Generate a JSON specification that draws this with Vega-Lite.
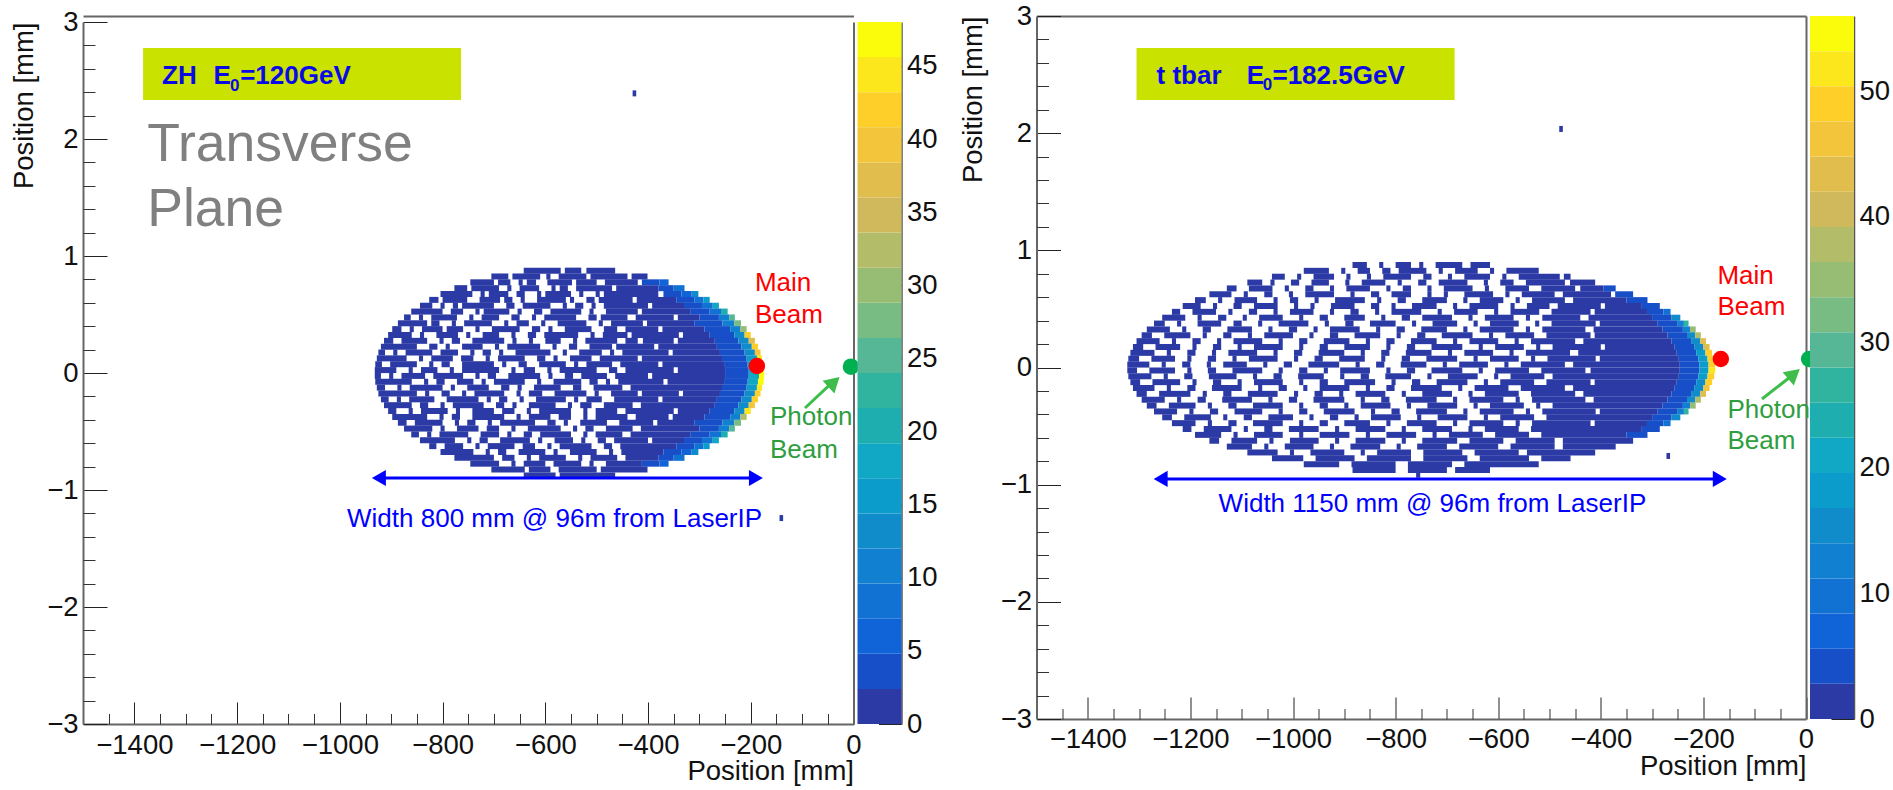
{"$schema":"https://vega.github.io/schema/vega-lite/v6.json","padding":{"left":10,"top":2,"right":0,"bottom":70},"background":"white","bounds":"flush","spacing":3.5,"resolve":{"scale":{"color":"independent"}},"config":{"font":"Liberation Sans","view":{"stroke":null},"axis":{"grid":false,"labelFlush":false,"labelOverlap":false,"labelFont":"Liberation Sans","titleFont":"Liberation Sans","labelFontSize":27.5,"titleFontSize":27.5,"labelColor":"#111","titleColor":"#111","titleFontWeight":"normal"},"text":{"font":"Liberation Sans"}},
"datasets":{"zh":[
{"x":-430,"x2":-423,"y":2.39,"n":1},{"x":-144,"x2":-137,"y":-1.24,"n":1},
{"x":-642,"x2":-570,"y":0.875,"n":1},{"x":-562,"x2":-530,"y":0.875,"n":1},{"x":-520,"x2":-464,"y":0.875,"n":1},
{"x":-705,"x2":-672,"y":0.825,"n":1},{"x":-664,"x2":-610,"y":0.825,"n":1},{"x":-598,"x2":-590,"y":0.825,"n":1},{"x":-574,"x2":-520,"y":0.825,"n":1},{"x":-512,"x2":-440,"y":0.825,"n":1},{"x":-432,"x2":-401,"y":0.825,"n":2},
{"x":-746,"x2":-700,"y":0.775,"n":1},{"x":-692,"x2":-668,"y":0.775,"n":1},{"x":-652,"x2":-644,"y":0.775,"n":1},{"x":-636,"x2":-618,"y":0.775,"n":1},{"x":-596,"x2":-548,"y":0.775,"n":1},{"x":-540,"x2":-500,"y":0.775,"n":1},{"x":-484,"x2":-420,"y":0.775,"n":1},{"x":-412,"x2":-378,"y":0.775,"n":3},{"x":-378,"x2":-360,"y":0.775,"n":6},
{"x":-777,"x2":-752,"y":0.725,"n":1},{"x":-744,"x2":-690,"y":0.725,"n":1},{"x":-674,"x2":-666,"y":0.725,"n":1},{"x":-650,"x2":-612,"y":0.725,"n":1},{"x":-588,"x2":-580,"y":0.725,"n":1},{"x":-572,"x2":-556,"y":0.725,"n":1},{"x":-540,"x2":-470,"y":0.725,"n":1},{"x":-462,"x2":-380,"y":0.725,"n":1},{"x":-380,"x2":-350,"y":0.725,"n":4},{"x":-350,"x2":-329,"y":0.725,"n":8},
{"x":-804,"x2":-742,"y":0.675,"n":1},{"x":-726,"x2":-718,"y":0.675,"n":1},{"x":-710,"x2":-672,"y":0.675,"n":1},{"x":-656,"x2":-640,"y":0.675,"n":1},{"x":-616,"x2":-608,"y":0.675,"n":1},{"x":-600,"x2":-550,"y":0.675,"n":1},{"x":-534,"x2":-526,"y":0.675,"n":1},{"x":-502,"x2":-494,"y":0.675,"n":1},{"x":-486,"x2":-380,"y":0.675,"n":1},{"x":-370,"x2":-335,"y":0.675,"n":3},{"x":-335,"x2":-315,"y":0.675,"n":6},{"x":-315,"x2":-302,"y":0.675,"n":12},
{"x":-826,"x2":-808,"y":0.625,"n":2},{"x":-800,"x2":-752,"y":0.625,"n":1},{"x":-728,"x2":-688,"y":0.625,"n":1},{"x":-680,"x2":-664,"y":0.625,"n":1},{"x":-648,"x2":-640,"y":0.625,"n":1},{"x":-616,"x2":-560,"y":0.625,"n":1},{"x":-552,"x2":-544,"y":0.625,"n":1},{"x":-520,"x2":-504,"y":0.625,"n":1},{"x":-496,"x2":-430,"y":0.625,"n":1},{"x":-422,"x2":-345,"y":0.625,"n":1},{"x":-345,"x2":-310,"y":0.625,"n":4},{"x":-310,"x2":-292,"y":0.625,"n":9},{"x":-292,"x2":-280,"y":0.625,"n":15},
{"x":-844,"x2":-820,"y":0.575,"n":2},{"x":-804,"x2":-796,"y":0.575,"n":1},{"x":-780,"x2":-770,"y":0.575,"n":1},{"x":-762,"x2":-700,"y":0.575,"n":1},{"x":-676,"x2":-660,"y":0.575,"n":1},{"x":-644,"x2":-590,"y":0.575,"n":1},{"x":-566,"x2":-558,"y":0.575,"n":1},{"x":-542,"x2":-526,"y":0.575,"n":1},{"x":-510,"x2":-502,"y":0.575,"n":1},{"x":-486,"x2":-400,"y":0.575,"n":1},{"x":-392,"x2":-330,"y":0.575,"n":1},{"x":-330,"x2":-295,"y":0.575,"n":4},{"x":-295,"x2":-274,"y":0.575,"n":9},{"x":-274,"x2":-262,"y":0.575,"n":17},
{"x":-861,"x2":-800,"y":0.525,"n":1},{"x":-784,"x2":-760,"y":0.525,"n":1},{"x":-736,"x2":-728,"y":0.525,"n":1},{"x":-720,"x2":-670,"y":0.525,"n":1},{"x":-654,"x2":-646,"y":0.525,"n":1},{"x":-622,"x2":-606,"y":0.525,"n":1},{"x":-590,"x2":-530,"y":0.525,"n":1},{"x":-514,"x2":-506,"y":0.525,"n":1},{"x":-482,"x2":-420,"y":0.525,"n":1},{"x":-412,"x2":-318,"y":0.525,"n":1},{"x":-318,"x2":-280,"y":0.525,"n":4},{"x":-280,"x2":-258,"y":0.525,"n":9},{"x":-258,"x2":-245,"y":0.525,"n":20},
{"x":-875,"x2":-862,"y":0.475,"n":2},{"x":-846,"x2":-838,"y":0.475,"n":1},{"x":-822,"x2":-772,"y":0.475,"n":1},{"x":-748,"x2":-740,"y":0.475,"n":1},{"x":-724,"x2":-690,"y":0.475,"n":1},{"x":-666,"x2":-650,"y":0.475,"n":1},{"x":-626,"x2":-618,"y":0.475,"n":1},{"x":-602,"x2":-540,"y":0.475,"n":1},{"x":-516,"x2":-500,"y":0.475,"n":1},{"x":-492,"x2":-440,"y":0.475,"n":1},{"x":-424,"x2":-350,"y":0.475,"n":1},{"x":-342,"x2":-300,"y":0.475,"n":2},{"x":-300,"x2":-262,"y":0.475,"n":4},{"x":-262,"x2":-242,"y":0.475,"n":10},{"x":-242,"x2":-231,"y":0.475,"n":24},
{"x":-887,"x2":-830,"y":0.425,"n":1},{"x":-822,"x2":-806,"y":0.425,"n":1},{"x":-782,"x2":-774,"y":0.425,"n":1},{"x":-758,"x2":-704,"y":0.425,"n":1},{"x":-680,"x2":-672,"y":0.425,"n":1},{"x":-656,"x2":-632,"y":0.425,"n":1},{"x":-608,"x2":-600,"y":0.425,"n":1},{"x":-576,"x2":-520,"y":0.425,"n":1},{"x":-496,"x2":-488,"y":0.425,"n":1},{"x":-472,"x2":-410,"y":0.425,"n":1},{"x":-402,"x2":-310,"y":0.425,"n":1},{"x":-310,"x2":-255,"y":0.425,"n":3},{"x":-255,"x2":-232,"y":0.425,"n":10},{"x":-232,"x2":-219,"y":0.425,"n":28},
{"x":-898,"x2":-880,"y":0.375,"n":2},{"x":-864,"x2":-856,"y":0.375,"n":1},{"x":-840,"x2":-800,"y":0.375,"n":1},{"x":-792,"x2":-760,"y":0.375,"n":1},{"x":-736,"x2":-728,"y":0.375,"n":1},{"x":-704,"x2":-650,"y":0.375,"n":1},{"x":-626,"x2":-610,"y":0.375,"n":1},{"x":-594,"x2":-586,"y":0.375,"n":1},{"x":-562,"x2":-510,"y":0.375,"n":1},{"x":-486,"x2":-460,"y":0.375,"n":1},{"x":-444,"x2":-380,"y":0.375,"n":1},{"x":-372,"x2":-290,"y":0.375,"n":1},{"x":-290,"x2":-240,"y":0.375,"n":3},{"x":-240,"x2":-220,"y":0.375,"n":11},{"x":-220,"x2":-208,"y":0.375,"n":30},
{"x":-906,"x2":-860,"y":0.325,"n":1},{"x":-844,"x2":-836,"y":0.325,"n":1},{"x":-812,"x2":-770,"y":0.325,"n":1},{"x":-754,"x2":-746,"y":0.325,"n":1},{"x":-722,"x2":-690,"y":0.325,"n":1},{"x":-666,"x2":-658,"y":0.325,"n":1},{"x":-634,"x2":-618,"y":0.325,"n":1},{"x":-602,"x2":-536,"y":0.325,"n":1},{"x":-512,"x2":-504,"y":0.325,"n":1},{"x":-488,"x2":-440,"y":0.325,"n":1},{"x":-432,"x2":-340,"y":0.325,"n":1},{"x":-332,"x2":-280,"y":0.325,"n":2},{"x":-280,"x2":-232,"y":0.325,"n":3},{"x":-232,"x2":-212,"y":0.325,"n":12},{"x":-212,"x2":-200,"y":0.325,"n":42},
{"x":-914,"x2":-896,"y":0.275,"n":2},{"x":-880,"x2":-830,"y":0.275,"n":1},{"x":-806,"x2":-798,"y":0.275,"n":1},{"x":-782,"x2":-766,"y":0.275,"n":1},{"x":-742,"x2":-680,"y":0.275,"n":1},{"x":-664,"x2":-656,"y":0.275,"n":1},{"x":-632,"x2":-624,"y":0.275,"n":1},{"x":-600,"x2":-570,"y":0.275,"n":1},{"x":-546,"x2":-538,"y":0.275,"n":1},{"x":-522,"x2":-460,"y":0.275,"n":1},{"x":-444,"x2":-420,"y":0.275,"n":1},{"x":-410,"x2":-350,"y":0.275,"n":1},{"x":-342,"x2":-270,"y":0.275,"n":2},{"x":-270,"x2":-224,"y":0.275,"n":3},{"x":-224,"x2":-204,"y":0.275,"n":13},{"x":-204,"x2":-192,"y":0.275,"n":38},
{"x":-920,"x2":-850,"y":0.225,"n":1},{"x":-826,"x2":-810,"y":0.225,"n":1},{"x":-794,"x2":-786,"y":0.225,"n":1},{"x":-762,"x2":-722,"y":0.225,"n":1},{"x":-698,"x2":-690,"y":0.225,"n":1},{"x":-674,"x2":-610,"y":0.225,"n":1},{"x":-586,"x2":-578,"y":0.225,"n":1},{"x":-554,"x2":-538,"y":0.225,"n":1},{"x":-514,"x2":-470,"y":0.225,"n":1},{"x":-462,"x2":-388,"y":0.225,"n":1},{"x":-380,"x2":-266,"y":0.225,"n":2},{"x":-266,"x2":-218,"y":0.225,"n":3},{"x":-218,"x2":-198,"y":0.225,"n":14},{"x":-198,"x2":-186,"y":0.225,"n":42},
{"x":-925,"x2":-912,"y":0.175,"n":2},{"x":-896,"x2":-888,"y":0.175,"n":1},{"x":-872,"x2":-820,"y":0.175,"n":1},{"x":-804,"x2":-770,"y":0.175,"n":1},{"x":-746,"x2":-738,"y":0.175,"n":1},{"x":-722,"x2":-706,"y":0.175,"n":1},{"x":-690,"x2":-682,"y":0.175,"n":1},{"x":-658,"x2":-590,"y":0.175,"n":1},{"x":-566,"x2":-558,"y":0.175,"n":1},{"x":-534,"x2":-490,"y":0.175,"n":1},{"x":-474,"x2":-466,"y":0.175,"n":1},{"x":-450,"x2":-360,"y":0.175,"n":1},{"x":-352,"x2":-260,"y":0.175,"n":2},{"x":-260,"x2":-212,"y":0.175,"n":3},{"x":-212,"x2":-192,"y":0.175,"n":14},{"x":-192,"x2":-181,"y":0.175,"n":40},
{"x":-928,"x2":-870,"y":0.125,"n":1},{"x":-846,"x2":-838,"y":0.125,"n":1},{"x":-822,"x2":-780,"y":0.125,"n":1},{"x":-764,"x2":-740,"y":0.125,"n":1},{"x":-716,"x2":-708,"y":0.125,"n":1},{"x":-692,"x2":-640,"y":0.125,"n":1},{"x":-616,"x2":-600,"y":0.125,"n":1},{"x":-584,"x2":-576,"y":0.125,"n":1},{"x":-552,"x2":-510,"y":0.125,"n":1},{"x":-494,"x2":-420,"y":0.125,"n":1},{"x":-412,"x2":-256,"y":0.125,"n":2},{"x":-256,"x2":-208,"y":0.125,"n":3},{"x":-208,"x2":-188,"y":0.125,"n":15},{"x":-188,"x2":-178,"y":0.125,"n":44},
{"x":-931,"x2":-918,"y":0.075,"n":2},{"x":-902,"x2":-850,"y":0.075,"n":1},{"x":-826,"x2":-818,"y":0.075,"n":1},{"x":-802,"x2":-786,"y":0.075,"n":1},{"x":-762,"x2":-700,"y":0.075,"n":1},{"x":-684,"x2":-676,"y":0.075,"n":1},{"x":-652,"x2":-636,"y":0.075,"n":1},{"x":-612,"x2":-560,"y":0.075,"n":1},{"x":-544,"x2":-536,"y":0.075,"n":1},{"x":-520,"x2":-470,"y":0.075,"n":1},{"x":-454,"x2":-380,"y":0.075,"n":1},{"x":-372,"x2":-252,"y":0.075,"n":2},{"x":-252,"x2":-206,"y":0.075,"n":3},{"x":-206,"x2":-186,"y":0.075,"n":16},{"x":-186,"x2":-175,"y":0.075,"n":46},
{"x":-932,"x2":-890,"y":0.025,"n":2},{"x":-866,"x2":-858,"y":0.025,"n":1},{"x":-842,"x2":-810,"y":0.025,"n":1},{"x":-786,"x2":-778,"y":0.025,"n":1},{"x":-762,"x2":-690,"y":0.025,"n":1},{"x":-666,"x2":-658,"y":0.025,"n":1},{"x":-642,"x2":-620,"y":0.025,"n":1},{"x":-596,"x2":-588,"y":0.025,"n":1},{"x":-572,"x2":-500,"y":0.025,"n":1},{"x":-476,"x2":-460,"y":0.025,"n":1},{"x":-444,"x2":-350,"y":0.025,"n":1},{"x":-342,"x2":-250,"y":0.025,"n":2},{"x":-250,"x2":-204,"y":0.025,"n":3},{"x":-204,"x2":-184,"y":0.025,"n":16},{"x":-184,"x2":-174,"y":0.025,"n":47},
{"x":-932,"x2":-920,"y":-0.025,"n":2},{"x":-904,"x2":-896,"y":-0.025,"n":1},{"x":-880,"x2":-834,"y":-0.025,"n":1},{"x":-818,"x2":-760,"y":-0.025,"n":1},{"x":-736,"x2":-728,"y":-0.025,"n":1},{"x":-712,"x2":-696,"y":-0.025,"n":1},{"x":-672,"x2":-610,"y":-0.025,"n":1},{"x":-594,"x2":-586,"y":-0.025,"n":1},{"x":-562,"x2":-546,"y":-0.025,"n":1},{"x":-530,"x2":-480,"y":-0.025,"n":1},{"x":-464,"x2":-400,"y":-0.025,"n":1},{"x":-392,"x2":-250,"y":-0.025,"n":2},{"x":-250,"x2":-204,"y":-0.025,"n":4},{"x":-204,"x2":-184,"y":-0.025,"n":18},{"x":-184,"x2":-174,"y":-0.025,"n":47},
{"x":-931,"x2":-860,"y":-0.075,"n":1},{"x":-836,"x2":-828,"y":-0.075,"n":1},{"x":-812,"x2":-796,"y":-0.075,"n":1},{"x":-772,"x2":-740,"y":-0.075,"n":1},{"x":-724,"x2":-716,"y":-0.075,"n":1},{"x":-700,"x2":-640,"y":-0.075,"n":1},{"x":-616,"x2":-608,"y":-0.075,"n":1},{"x":-584,"x2":-530,"y":-0.075,"n":1},{"x":-514,"x2":-498,"y":-0.075,"n":1},{"x":-482,"x2":-474,"y":-0.075,"n":1},{"x":-458,"x2":-370,"y":-0.075,"n":1},{"x":-362,"x2":-252,"y":-0.075,"n":2},{"x":-252,"x2":-206,"y":-0.075,"n":4},{"x":-206,"x2":-186,"y":-0.075,"n":17},{"x":-186,"x2":-175,"y":-0.075,"n":47},
{"x":-928,"x2":-912,"y":-0.125,"n":2},{"x":-888,"x2":-880,"y":-0.125,"n":1},{"x":-864,"x2":-800,"y":-0.125,"n":1},{"x":-784,"x2":-776,"y":-0.125,"n":1},{"x":-752,"x2":-710,"y":-0.125,"n":1},{"x":-686,"x2":-670,"y":-0.125,"n":1},{"x":-654,"x2":-646,"y":-0.125,"n":1},{"x":-622,"x2":-570,"y":-0.125,"n":1},{"x":-546,"x2":-530,"y":-0.125,"n":1},{"x":-506,"x2":-450,"y":-0.125,"n":1},{"x":-434,"x2":-256,"y":-0.125,"n":2},{"x":-256,"x2":-208,"y":-0.125,"n":3},{"x":-208,"x2":-188,"y":-0.125,"n":15},{"x":-188,"x2":-178,"y":-0.125,"n":44},
{"x":-925,"x2":-850,"y":-0.175,"n":1},{"x":-834,"x2":-826,"y":-0.175,"n":1},{"x":-802,"x2":-786,"y":-0.175,"n":1},{"x":-762,"x2":-754,"y":-0.175,"n":1},{"x":-738,"x2":-680,"y":-0.175,"n":1},{"x":-656,"x2":-648,"y":-0.175,"n":1},{"x":-632,"x2":-606,"y":-0.175,"n":1},{"x":-582,"x2":-520,"y":-0.175,"n":1},{"x":-504,"x2":-496,"y":-0.175,"n":1},{"x":-472,"x2":-420,"y":-0.175,"n":1},{"x":-412,"x2":-340,"y":-0.175,"n":1},{"x":-332,"x2":-260,"y":-0.175,"n":2},{"x":-260,"x2":-212,"y":-0.175,"n":3},{"x":-212,"x2":-192,"y":-0.175,"n":14},{"x":-192,"x2":-181,"y":-0.175,"n":42},
{"x":-920,"x2":-905,"y":-0.225,"n":2},{"x":-889,"x2":-881,"y":-0.225,"n":1},{"x":-865,"x2":-816,"y":-0.225,"n":1},{"x":-792,"x2":-730,"y":-0.225,"n":1},{"x":-714,"x2":-706,"y":-0.225,"n":1},{"x":-690,"x2":-674,"y":-0.225,"n":1},{"x":-650,"x2":-642,"y":-0.225,"n":1},{"x":-618,"x2":-560,"y":-0.225,"n":1},{"x":-544,"x2":-536,"y":-0.225,"n":1},{"x":-520,"x2":-490,"y":-0.225,"n":1},{"x":-466,"x2":-380,"y":-0.225,"n":1},{"x":-372,"x2":-266,"y":-0.225,"n":2},{"x":-266,"x2":-218,"y":-0.225,"n":3},{"x":-218,"x2":-198,"y":-0.225,"n":13},{"x":-198,"x2":-186,"y":-0.225,"n":42},
{"x":-914,"x2":-860,"y":-0.275,"n":1},{"x":-844,"x2":-828,"y":-0.275,"n":1},{"x":-804,"x2":-796,"y":-0.275,"n":1},{"x":-780,"x2":-720,"y":-0.275,"n":1},{"x":-696,"x2":-680,"y":-0.275,"n":1},{"x":-664,"x2":-656,"y":-0.275,"n":1},{"x":-632,"x2":-580,"y":-0.275,"n":1},{"x":-556,"x2":-548,"y":-0.275,"n":1},{"x":-532,"x2":-510,"y":-0.275,"n":1},{"x":-486,"x2":-430,"y":-0.275,"n":1},{"x":-414,"x2":-270,"y":-0.275,"n":2},{"x":-270,"x2":-224,"y":-0.275,"n":3},{"x":-224,"x2":-204,"y":-0.275,"n":12},{"x":-204,"x2":-192,"y":-0.275,"n":40},
{"x":-906,"x2":-890,"y":-0.325,"n":2},{"x":-866,"x2":-858,"y":-0.325,"n":1},{"x":-842,"x2":-790,"y":-0.325,"n":1},{"x":-774,"x2":-766,"y":-0.325,"n":1},{"x":-742,"x2":-700,"y":-0.325,"n":1},{"x":-684,"x2":-660,"y":-0.325,"n":1},{"x":-636,"x2":-628,"y":-0.325,"n":1},{"x":-612,"x2":-550,"y":-0.325,"n":1},{"x":-526,"x2":-518,"y":-0.325,"n":1},{"x":-502,"x2":-460,"y":-0.325,"n":1},{"x":-444,"x2":-350,"y":-0.325,"n":1},{"x":-342,"x2":-280,"y":-0.325,"n":2},{"x":-280,"x2":-232,"y":-0.325,"n":3},{"x":-232,"x2":-212,"y":-0.325,"n":12},{"x":-212,"x2":-200,"y":-0.325,"n":44},
{"x":-898,"x2":-830,"y":-0.375,"n":1},{"x":-806,"x2":-798,"y":-0.375,"n":1},{"x":-782,"x2":-766,"y":-0.375,"n":1},{"x":-742,"x2":-680,"y":-0.375,"n":1},{"x":-656,"x2":-648,"y":-0.375,"n":1},{"x":-632,"x2":-590,"y":-0.375,"n":1},{"x":-574,"x2":-550,"y":-0.375,"n":1},{"x":-526,"x2":-518,"y":-0.375,"n":1},{"x":-502,"x2":-440,"y":-0.375,"n":1},{"x":-424,"x2":-360,"y":-0.375,"n":1},{"x":-352,"x2":-290,"y":-0.375,"n":1},{"x":-290,"x2":-240,"y":-0.375,"n":3},{"x":-240,"x2":-220,"y":-0.375,"n":11},{"x":-220,"x2":-208,"y":-0.375,"n":32},
{"x":-887,"x2":-870,"y":-0.425,"n":2},{"x":-854,"x2":-800,"y":-0.425,"n":1},{"x":-776,"x2":-768,"y":-0.425,"n":1},{"x":-752,"x2":-736,"y":-0.425,"n":1},{"x":-712,"x2":-704,"y":-0.425,"n":1},{"x":-688,"x2":-620,"y":-0.425,"n":1},{"x":-596,"x2":-580,"y":-0.425,"n":1},{"x":-564,"x2":-556,"y":-0.425,"n":1},{"x":-532,"x2":-480,"y":-0.425,"n":1},{"x":-456,"x2":-390,"y":-0.425,"n":1},{"x":-382,"x2":-310,"y":-0.425,"n":1},{"x":-310,"x2":-255,"y":-0.425,"n":3},{"x":-255,"x2":-232,"y":-0.425,"n":10},{"x":-232,"x2":-219,"y":-0.425,"n":28},
{"x":-875,"x2":-820,"y":-0.475,"n":1},{"x":-804,"x2":-796,"y":-0.475,"n":1},{"x":-772,"x2":-730,"y":-0.475,"n":1},{"x":-714,"x2":-690,"y":-0.475,"n":1},{"x":-666,"x2":-658,"y":-0.475,"n":1},{"x":-634,"x2":-570,"y":-0.475,"n":1},{"x":-546,"x2":-538,"y":-0.475,"n":1},{"x":-522,"x2":-506,"y":-0.475,"n":1},{"x":-482,"x2":-430,"y":-0.475,"n":1},{"x":-414,"x2":-300,"y":-0.475,"n":1},{"x":-300,"x2":-262,"y":-0.475,"n":4},{"x":-262,"x2":-242,"y":-0.475,"n":10},{"x":-242,"x2":-231,"y":-0.475,"n":24},
{"x":-861,"x2":-846,"y":-0.525,"n":2},{"x":-830,"x2":-822,"y":-0.525,"n":1},{"x":-806,"x2":-750,"y":-0.525,"n":1},{"x":-726,"x2":-690,"y":-0.525,"n":1},{"x":-674,"x2":-666,"y":-0.525,"n":1},{"x":-642,"x2":-626,"y":-0.525,"n":1},{"x":-610,"x2":-550,"y":-0.525,"n":1},{"x":-526,"x2":-518,"y":-0.525,"n":1},{"x":-502,"x2":-450,"y":-0.525,"n":1},{"x":-434,"x2":-318,"y":-0.525,"n":1},{"x":-318,"x2":-280,"y":-0.525,"n":4},{"x":-280,"x2":-258,"y":-0.525,"n":9},{"x":-258,"x2":-245,"y":-0.525,"n":20},
{"x":-844,"x2":-776,"y":-0.575,"n":1},{"x":-752,"x2":-744,"y":-0.575,"n":1},{"x":-728,"x2":-712,"y":-0.575,"n":1},{"x":-688,"x2":-630,"y":-0.575,"n":1},{"x":-614,"x2":-606,"y":-0.575,"n":1},{"x":-582,"x2":-546,"y":-0.575,"n":1},{"x":-530,"x2":-522,"y":-0.575,"n":1},{"x":-498,"x2":-482,"y":-0.575,"n":1},{"x":-466,"x2":-400,"y":-0.575,"n":1},{"x":-392,"x2":-330,"y":-0.575,"n":1},{"x":-330,"x2":-295,"y":-0.575,"n":4},{"x":-295,"x2":-274,"y":-0.575,"n":9},{"x":-274,"x2":-262,"y":-0.575,"n":18},
{"x":-826,"x2":-812,"y":-0.625,"n":2},{"x":-796,"x2":-760,"y":-0.625,"n":1},{"x":-736,"x2":-728,"y":-0.625,"n":1},{"x":-712,"x2":-660,"y":-0.625,"n":1},{"x":-644,"x2":-620,"y":-0.625,"n":1},{"x":-596,"x2":-588,"y":-0.625,"n":1},{"x":-572,"x2":-510,"y":-0.625,"n":1},{"x":-486,"x2":-470,"y":-0.625,"n":1},{"x":-454,"x2":-345,"y":-0.625,"n":1},{"x":-345,"x2":-310,"y":-0.625,"n":4},{"x":-310,"x2":-292,"y":-0.625,"n":9},{"x":-292,"x2":-280,"y":-0.625,"n":15},
{"x":-804,"x2":-740,"y":-0.675,"n":1},{"x":-716,"x2":-708,"y":-0.675,"n":1},{"x":-692,"x2":-676,"y":-0.675,"n":1},{"x":-652,"x2":-600,"y":-0.675,"n":1},{"x":-584,"x2":-576,"y":-0.675,"n":1},{"x":-552,"x2":-500,"y":-0.675,"n":1},{"x":-476,"x2":-468,"y":-0.675,"n":1},{"x":-452,"x2":-370,"y":-0.675,"n":1},{"x":-370,"x2":-335,"y":-0.675,"n":3},{"x":-335,"x2":-315,"y":-0.675,"n":6},{"x":-315,"x2":-302,"y":-0.675,"n":12},
{"x":-777,"x2":-700,"y":-0.725,"n":1},{"x":-684,"x2":-660,"y":-0.725,"n":1},{"x":-636,"x2":-628,"y":-0.725,"n":1},{"x":-612,"x2":-560,"y":-0.725,"n":1},{"x":-536,"x2":-528,"y":-0.725,"n":1},{"x":-512,"x2":-460,"y":-0.725,"n":1},{"x":-444,"x2":-380,"y":-0.725,"n":1},{"x":-380,"x2":-350,"y":-0.725,"n":4},{"x":-350,"x2":-329,"y":-0.725,"n":8},
{"x":-746,"x2":-690,"y":-0.775,"n":1},{"x":-666,"x2":-658,"y":-0.775,"n":1},{"x":-642,"x2":-600,"y":-0.775,"n":1},{"x":-584,"x2":-530,"y":-0.775,"n":1},{"x":-514,"x2":-506,"y":-0.775,"n":1},{"x":-482,"x2":-412,"y":-0.775,"n":1},{"x":-412,"x2":-378,"y":-0.775,"n":3},{"x":-378,"x2":-360,"y":-0.775,"n":6},
{"x":-705,"x2":-640,"y":-0.825,"n":1},{"x":-632,"x2":-590,"y":-0.825,"n":1},{"x":-574,"x2":-500,"y":-0.825,"n":1},{"x":-492,"x2":-401,"y":-0.825,"n":1},
{"x":-642,"x2":-580,"y":-0.875,"n":1},{"x":-572,"x2":-464,"y":-0.875,"n":1}
],
"tt":[
{"x":-481,"x2":-474,"y":2.036,"n":1},{"x":-272,"x2":-265,"y":-0.755,"n":1},{"x":-760,"x2":-752,"y":-0.915,"n":1},
{"x":-884,"x2":-856,"y":0.875,"n":1},{"x":-832,"x2":-824,"y":0.875,"n":1},{"x":-800,"x2":-770,"y":0.875,"n":1},{"x":-754,"x2":-746,"y":0.875,"n":1},{"x":-722,"x2":-670,"y":0.875,"n":1},{"x":-654,"x2":-616,"y":0.875,"n":1},
{"x":-979,"x2":-930,"y":0.825,"n":1},{"x":-906,"x2":-898,"y":0.825,"n":1},{"x":-874,"x2":-850,"y":0.825,"n":1},{"x":-826,"x2":-810,"y":0.825,"n":1},{"x":-794,"x2":-740,"y":0.825,"n":1},{"x":-716,"x2":-708,"y":0.825,"n":1},{"x":-684,"x2":-640,"y":0.825,"n":1},{"x":-616,"x2":-608,"y":0.825,"n":1},{"x":-584,"x2":-521,"y":0.825,"n":1},
{"x":-1041,"x2":-1016,"y":0.775,"n":1},{"x":-992,"x2":-984,"y":0.775,"n":1},{"x":-960,"x2":-920,"y":0.775,"n":1},{"x":-896,"x2":-888,"y":0.775,"n":1},{"x":-856,"x2":-848,"y":0.775,"n":1},{"x":-824,"x2":-770,"y":0.775,"n":1},{"x":-746,"x2":-730,"y":0.775,"n":1},{"x":-698,"x2":-690,"y":0.775,"n":1},{"x":-666,"x2":-616,"y":0.775,"n":1},{"x":-592,"x2":-584,"y":0.775,"n":1},{"x":-560,"x2":-480,"y":0.775,"n":1},{"x":-472,"x2":-459,"y":0.775,"n":2},
{"x":-1089,"x2":-1060,"y":0.725,"n":1},{"x":-1044,"x2":-1036,"y":0.725,"n":1},{"x":-1004,"x2":-988,"y":0.725,"n":1},{"x":-964,"x2":-930,"y":0.725,"n":1},{"x":-898,"x2":-890,"y":0.725,"n":1},{"x":-866,"x2":-820,"y":0.725,"n":1},{"x":-796,"x2":-788,"y":0.725,"n":1},{"x":-756,"x2":-740,"y":0.725,"n":1},{"x":-716,"x2":-660,"y":0.725,"n":1},{"x":-628,"x2":-620,"y":0.725,"n":1},{"x":-596,"x2":-570,"y":0.725,"n":1},{"x":-546,"x2":-470,"y":0.725,"n":1},{"x":-460,"x2":-411,"y":0.725,"n":2},
{"x":-1129,"x2":-1110,"y":0.675,"n":1},{"x":-1086,"x2":-1040,"y":0.675,"n":1},{"x":-1016,"x2":-1008,"y":0.675,"n":1},{"x":-976,"x2":-960,"y":0.675,"n":1},{"x":-928,"x2":-920,"y":0.675,"n":1},{"x":-896,"x2":-850,"y":0.675,"n":1},{"x":-818,"x2":-810,"y":0.675,"n":1},{"x":-786,"x2":-770,"y":0.675,"n":1},{"x":-738,"x2":-730,"y":0.675,"n":1},{"x":-706,"x2":-650,"y":0.675,"n":1},{"x":-626,"x2":-618,"y":0.675,"n":1},{"x":-586,"x2":-540,"y":0.675,"n":1},{"x":-516,"x2":-450,"y":0.675,"n":1},{"x":-440,"x2":-395,"y":0.675,"n":1},{"x":-395,"x2":-371,"y":0.675,"n":4},
{"x":-1163,"x2":-1120,"y":0.625,"n":1},{"x":-1096,"x2":-1088,"y":0.625,"n":1},{"x":-1056,"x2":-1040,"y":0.625,"n":1},{"x":-1008,"x2":-1000,"y":0.625,"n":1},{"x":-976,"x2":-920,"y":0.625,"n":1},{"x":-888,"x2":-880,"y":0.625,"n":1},{"x":-848,"x2":-832,"y":0.625,"n":1},{"x":-808,"x2":-770,"y":0.625,"n":1},{"x":-738,"x2":-730,"y":0.625,"n":1},{"x":-706,"x2":-698,"y":0.625,"n":1},{"x":-666,"x2":-610,"y":0.625,"n":1},{"x":-586,"x2":-578,"y":0.625,"n":1},{"x":-554,"x2":-490,"y":0.625,"n":1},{"x":-474,"x2":-380,"y":0.625,"n":1},{"x":-372,"x2":-337,"y":0.625,"n":5},
{"x":-1191,"x2":-1170,"y":0.575,"n":1},{"x":-1146,"x2":-1138,"y":0.575,"n":1},{"x":-1114,"x2":-1070,"y":0.575,"n":1},{"x":-1038,"x2":-1030,"y":0.575,"n":1},{"x":-1006,"x2":-990,"y":0.575,"n":1},{"x":-958,"x2":-950,"y":0.575,"n":1},{"x":-918,"x2":-860,"y":0.575,"n":1},{"x":-836,"x2":-828,"y":0.575,"n":1},{"x":-796,"x2":-780,"y":0.575,"n":1},{"x":-748,"x2":-700,"y":0.575,"n":1},{"x":-668,"x2":-660,"y":0.575,"n":1},{"x":-636,"x2":-590,"y":0.575,"n":1},{"x":-566,"x2":-558,"y":0.575,"n":1},{"x":-534,"x2":-470,"y":0.575,"n":1},{"x":-454,"x2":-350,"y":0.575,"n":1},{"x":-350,"x2":-309,"y":0.575,"n":5},
{"x":-1215,"x2":-1180,"y":0.525,"n":1},{"x":-1156,"x2":-1148,"y":0.525,"n":1},{"x":-1116,"x2":-1100,"y":0.525,"n":1},{"x":-1076,"x2":-1030,"y":0.525,"n":1},{"x":-998,"x2":-990,"y":0.525,"n":1},{"x":-966,"x2":-958,"y":0.525,"n":1},{"x":-926,"x2":-880,"y":0.525,"n":1},{"x":-848,"x2":-832,"y":0.525,"n":1},{"x":-808,"x2":-800,"y":0.525,"n":1},{"x":-768,"x2":-720,"y":0.525,"n":1},{"x":-688,"x2":-680,"y":0.525,"n":1},{"x":-656,"x2":-600,"y":0.525,"n":1},{"x":-576,"x2":-568,"y":0.525,"n":1},{"x":-544,"x2":-500,"y":0.525,"n":1},{"x":-484,"x2":-400,"y":0.525,"n":1},{"x":-392,"x2":-320,"y":0.525,"n":1},{"x":-320,"x2":-285,"y":0.525,"n":5},
{"x":-1236,"x2":-1220,"y":0.475,"n":1},{"x":-1196,"x2":-1150,"y":0.475,"n":1},{"x":-1126,"x2":-1118,"y":0.475,"n":1},{"x":-1086,"x2":-1070,"y":0.475,"n":1},{"x":-1038,"x2":-1030,"y":0.475,"n":1},{"x":-1006,"x2":-960,"y":0.475,"n":1},{"x":-928,"x2":-920,"y":0.475,"n":1},{"x":-888,"x2":-872,"y":0.475,"n":1},{"x":-840,"x2":-832,"y":0.475,"n":1},{"x":-808,"x2":-750,"y":0.475,"n":1},{"x":-718,"x2":-710,"y":0.475,"n":1},{"x":-686,"x2":-640,"y":0.475,"n":1},{"x":-608,"x2":-600,"y":0.475,"n":1},{"x":-576,"x2":-520,"y":0.475,"n":1},{"x":-496,"x2":-420,"y":0.475,"n":1},{"x":-412,"x2":-310,"y":0.475,"n":1},{"x":-310,"x2":-278,"y":0.475,"n":4},{"x":-278,"x2":-264,"y":0.475,"n":11},
{"x":-1255,"x2":-1210,"y":0.425,"n":1},{"x":-1186,"x2":-1178,"y":0.425,"n":1},{"x":-1146,"x2":-1130,"y":0.425,"n":1},{"x":-1098,"x2":-1090,"y":0.425,"n":1},{"x":-1066,"x2":-1020,"y":0.425,"n":1},{"x":-988,"x2":-980,"y":0.425,"n":1},{"x":-948,"x2":-932,"y":0.425,"n":1},{"x":-900,"x2":-860,"y":0.425,"n":1},{"x":-828,"x2":-820,"y":0.425,"n":1},{"x":-788,"x2":-772,"y":0.425,"n":1},{"x":-748,"x2":-690,"y":0.425,"n":1},{"x":-658,"x2":-650,"y":0.425,"n":1},{"x":-626,"x2":-570,"y":0.425,"n":1},{"x":-546,"x2":-538,"y":0.425,"n":1},{"x":-514,"x2":-440,"y":0.425,"n":1},{"x":-424,"x2":-300,"y":0.425,"n":1},{"x":-300,"x2":-262,"y":0.425,"n":4},{"x":-262,"x2":-245,"y":0.425,"n":14},
{"x":-1271,"x2":-1250,"y":0.375,"n":1},{"x":-1226,"x2":-1218,"y":0.375,"n":1},{"x":-1186,"x2":-1140,"y":0.375,"n":1},{"x":-1116,"x2":-1100,"y":0.375,"n":1},{"x":-1068,"x2":-1060,"y":0.375,"n":1},{"x":-1028,"x2":-970,"y":0.375,"n":1},{"x":-938,"x2":-930,"y":0.375,"n":1},{"x":-898,"x2":-882,"y":0.375,"n":1},{"x":-850,"x2":-800,"y":0.375,"n":1},{"x":-768,"x2":-760,"y":0.375,"n":1},{"x":-728,"x2":-680,"y":0.375,"n":1},{"x":-648,"x2":-640,"y":0.375,"n":1},{"x":-616,"x2":-560,"y":0.375,"n":1},{"x":-528,"x2":-520,"y":0.375,"n":1},{"x":-496,"x2":-410,"y":0.375,"n":1},{"x":-402,"x2":-290,"y":0.375,"n":1},{"x":-290,"x2":-250,"y":0.375,"n":4},{"x":-250,"x2":-238,"y":0.375,"n":12},{"x":-238,"x2":-229,"y":0.375,"n":26},
{"x":-1285,"x2":-1240,"y":0.325,"n":1},{"x":-1216,"x2":-1208,"y":0.325,"n":1},{"x":-1176,"x2":-1160,"y":0.325,"n":1},{"x":-1128,"x2":-1080,"y":0.325,"n":1},{"x":-1048,"x2":-1040,"y":0.325,"n":1},{"x":-1008,"x2":-992,"y":0.325,"n":1},{"x":-960,"x2":-952,"y":0.325,"n":1},{"x":-928,"x2":-870,"y":0.325,"n":1},{"x":-838,"x2":-830,"y":0.325,"n":1},{"x":-798,"x2":-782,"y":0.325,"n":1},{"x":-750,"x2":-700,"y":0.325,"n":1},{"x":-668,"x2":-660,"y":0.325,"n":1},{"x":-636,"x2":-570,"y":0.325,"n":1},{"x":-546,"x2":-538,"y":0.325,"n":1},{"x":-514,"x2":-430,"y":0.325,"n":1},{"x":-414,"x2":-280,"y":0.325,"n":1},{"x":-280,"x2":-240,"y":0.325,"n":4},{"x":-240,"x2":-226,"y":0.325,"n":13},{"x":-226,"x2":-215,"y":0.325,"n":34},
{"x":-1295,"x2":-1275,"y":0.275,"n":1},{"x":-1251,"x2":-1200,"y":0.275,"n":1},{"x":-1176,"x2":-1168,"y":0.275,"n":1},{"x":-1136,"x2":-1120,"y":0.275,"n":1},{"x":-1088,"x2":-1080,"y":0.275,"n":1},{"x":-1056,"x2":-1000,"y":0.275,"n":1},{"x":-968,"x2":-960,"y":0.275,"n":1},{"x":-928,"x2":-912,"y":0.275,"n":1},{"x":-880,"x2":-830,"y":0.275,"n":1},{"x":-798,"x2":-790,"y":0.275,"n":1},{"x":-758,"x2":-742,"y":0.275,"n":1},{"x":-710,"x2":-650,"y":0.275,"n":1},{"x":-618,"x2":-610,"y":0.275,"n":1},{"x":-586,"x2":-530,"y":0.275,"n":1},{"x":-506,"x2":-420,"y":0.275,"n":1},{"x":-412,"x2":-270,"y":0.275,"n":1},{"x":-270,"x2":-232,"y":0.275,"n":4},{"x":-232,"x2":-216,"y":0.275,"n":14},{"x":-216,"x2":-205,"y":0.275,"n":38},
{"x":-1305,"x2":-1260,"y":0.225,"n":1},{"x":-1236,"x2":-1228,"y":0.225,"n":1},{"x":-1196,"x2":-1180,"y":0.225,"n":1},{"x":-1148,"x2":-1140,"y":0.225,"n":1},{"x":-1116,"x2":-1060,"y":0.225,"n":1},{"x":-1028,"x2":-1020,"y":0.225,"n":1},{"x":-988,"x2":-972,"y":0.225,"n":1},{"x":-940,"x2":-890,"y":0.225,"n":1},{"x":-858,"x2":-850,"y":0.225,"n":1},{"x":-818,"x2":-802,"y":0.225,"n":1},{"x":-770,"x2":-720,"y":0.225,"n":1},{"x":-688,"x2":-680,"y":0.225,"n":1},{"x":-656,"x2":-600,"y":0.225,"n":1},{"x":-568,"x2":-560,"y":0.225,"n":1},{"x":-536,"x2":-450,"y":0.225,"n":1},{"x":-434,"x2":-262,"y":0.225,"n":1},{"x":-262,"x2":-224,"y":0.225,"n":4},{"x":-224,"x2":-206,"y":0.225,"n":15},{"x":-206,"x2":-195,"y":0.225,"n":42},
{"x":-1312,"x2":-1292,"y":0.175,"n":1},{"x":-1268,"x2":-1220,"y":0.175,"n":1},{"x":-1196,"x2":-1188,"y":0.175,"n":1},{"x":-1156,"x2":-1140,"y":0.175,"n":1},{"x":-1108,"x2":-1100,"y":0.175,"n":1},{"x":-1076,"x2":-1020,"y":0.175,"n":1},{"x":-988,"x2":-980,"y":0.175,"n":1},{"x":-948,"x2":-932,"y":0.175,"n":1},{"x":-900,"x2":-850,"y":0.175,"n":1},{"x":-818,"x2":-810,"y":0.175,"n":1},{"x":-778,"x2":-762,"y":0.175,"n":1},{"x":-730,"x2":-670,"y":0.175,"n":1},{"x":-638,"x2":-630,"y":0.175,"n":1},{"x":-606,"x2":-550,"y":0.175,"n":1},{"x":-526,"x2":-518,"y":0.175,"n":1},{"x":-494,"x2":-400,"y":0.175,"n":1},{"x":-392,"x2":-256,"y":0.175,"n":1},{"x":-256,"x2":-218,"y":0.175,"n":4},{"x":-218,"x2":-200,"y":0.175,"n":16},{"x":-200,"x2":-188,"y":0.175,"n":44},
{"x":-1317,"x2":-1270,"y":0.125,"n":1},{"x":-1246,"x2":-1238,"y":0.125,"n":1},{"x":-1206,"x2":-1190,"y":0.125,"n":1},{"x":-1158,"x2":-1150,"y":0.125,"n":1},{"x":-1126,"x2":-1070,"y":0.125,"n":1},{"x":-1038,"x2":-1030,"y":0.125,"n":1},{"x":-998,"x2":-982,"y":0.125,"n":1},{"x":-950,"x2":-900,"y":0.125,"n":1},{"x":-868,"x2":-860,"y":0.125,"n":1},{"x":-828,"x2":-812,"y":0.125,"n":1},{"x":-780,"x2":-730,"y":0.125,"n":1},{"x":-698,"x2":-690,"y":0.125,"n":1},{"x":-666,"x2":-610,"y":0.125,"n":1},{"x":-578,"x2":-570,"y":0.125,"n":1},{"x":-546,"x2":-460,"y":0.125,"n":1},{"x":-444,"x2":-252,"y":0.125,"n":1},{"x":-252,"x2":-214,"y":0.125,"n":4},{"x":-214,"x2":-196,"y":0.125,"n":17},{"x":-196,"x2":-183,"y":0.125,"n":48},
{"x":-1321,"x2":-1300,"y":0.075,"n":1},{"x":-1276,"x2":-1230,"y":0.075,"n":1},{"x":-1206,"x2":-1198,"y":0.075,"n":1},{"x":-1166,"x2":-1150,"y":0.075,"n":1},{"x":-1118,"x2":-1110,"y":0.075,"n":1},{"x":-1086,"x2":-1030,"y":0.075,"n":1},{"x":-998,"x2":-990,"y":0.075,"n":1},{"x":-958,"x2":-942,"y":0.075,"n":1},{"x":-910,"x2":-860,"y":0.075,"n":1},{"x":-828,"x2":-820,"y":0.075,"n":1},{"x":-788,"x2":-772,"y":0.075,"n":1},{"x":-740,"x2":-680,"y":0.075,"n":1},{"x":-648,"x2":-640,"y":0.075,"n":1},{"x":-616,"x2":-560,"y":0.075,"n":1},{"x":-536,"x2":-528,"y":0.075,"n":1},{"x":-504,"x2":-410,"y":0.075,"n":1},{"x":-402,"x2":-248,"y":0.075,"n":1},{"x":-248,"x2":-210,"y":0.075,"n":4},{"x":-210,"x2":-192,"y":0.075,"n":18},{"x":-192,"x2":-179,"y":0.075,"n":50},
{"x":-1323,"x2":-1280,"y":0.025,"n":1},{"x":-1256,"x2":-1248,"y":0.025,"n":1},{"x":-1216,"x2":-1200,"y":0.025,"n":1},{"x":-1168,"x2":-1160,"y":0.025,"n":1},{"x":-1136,"x2":-1090,"y":0.025,"n":1},{"x":-1058,"x2":-1050,"y":0.025,"n":1},{"x":-1018,"x2":-1002,"y":0.025,"n":1},{"x":-970,"x2":-910,"y":0.025,"n":1},{"x":-878,"x2":-870,"y":0.025,"n":1},{"x":-838,"x2":-822,"y":0.025,"n":1},{"x":-790,"x2":-740,"y":0.025,"n":1},{"x":-708,"x2":-700,"y":0.025,"n":1},{"x":-676,"x2":-620,"y":0.025,"n":1},{"x":-588,"x2":-580,"y":0.025,"n":1},{"x":-556,"x2":-470,"y":0.025,"n":1},{"x":-454,"x2":-246,"y":0.025,"n":1},{"x":-246,"x2":-208,"y":0.025,"n":4},{"x":-208,"x2":-190,"y":0.025,"n":18},{"x":-190,"x2":-177,"y":0.025,"n":50},
{"x":-1323,"x2":-1304,"y":-0.025,"n":1},{"x":-1280,"x2":-1230,"y":-0.025,"n":1},{"x":-1206,"x2":-1198,"y":-0.025,"n":1},{"x":-1166,"x2":-1150,"y":-0.025,"n":1},{"x":-1118,"x2":-1060,"y":-0.025,"n":1},{"x":-1028,"x2":-1020,"y":-0.025,"n":1},{"x":-988,"x2":-972,"y":-0.025,"n":1},{"x":-940,"x2":-932,"y":-0.025,"n":1},{"x":-908,"x2":-850,"y":-0.025,"n":1},{"x":-818,"x2":-810,"y":-0.025,"n":1},{"x":-778,"x2":-762,"y":-0.025,"n":1},{"x":-730,"x2":-670,"y":-0.025,"n":1},{"x":-638,"x2":-630,"y":-0.025,"n":1},{"x":-606,"x2":-540,"y":-0.025,"n":1},{"x":-516,"x2":-430,"y":-0.025,"n":1},{"x":-420,"x2":-246,"y":-0.025,"n":1},{"x":-246,"x2":-208,"y":-0.025,"n":4},{"x":-208,"x2":-190,"y":-0.025,"n":18},{"x":-190,"x2":-177,"y":-0.025,"n":52},
{"x":-1321,"x2":-1276,"y":-0.075,"n":1},{"x":-1252,"x2":-1244,"y":-0.075,"n":1},{"x":-1212,"x2":-1196,"y":-0.075,"n":1},{"x":-1164,"x2":-1110,"y":-0.075,"n":1},{"x":-1078,"x2":-1070,"y":-0.075,"n":1},{"x":-1038,"x2":-1022,"y":-0.075,"n":1},{"x":-990,"x2":-940,"y":-0.075,"n":1},{"x":-908,"x2":-900,"y":-0.075,"n":1},{"x":-868,"x2":-852,"y":-0.075,"n":1},{"x":-820,"x2":-770,"y":-0.075,"n":1},{"x":-738,"x2":-730,"y":-0.075,"n":1},{"x":-698,"x2":-640,"y":-0.075,"n":1},{"x":-608,"x2":-600,"y":-0.075,"n":1},{"x":-576,"x2":-510,"y":-0.075,"n":1},{"x":-494,"x2":-248,"y":-0.075,"n":1},{"x":-248,"x2":-210,"y":-0.075,"n":4},{"x":-210,"x2":-192,"y":-0.075,"n":17},{"x":-192,"x2":-179,"y":-0.075,"n":50},
{"x":-1317,"x2":-1298,"y":-0.125,"n":1},{"x":-1274,"x2":-1220,"y":-0.125,"n":1},{"x":-1196,"x2":-1188,"y":-0.125,"n":1},{"x":-1156,"x2":-1140,"y":-0.125,"n":1},{"x":-1108,"x2":-1100,"y":-0.125,"n":1},{"x":-1076,"x2":-1020,"y":-0.125,"n":1},{"x":-988,"x2":-980,"y":-0.125,"n":1},{"x":-948,"x2":-932,"y":-0.125,"n":1},{"x":-900,"x2":-840,"y":-0.125,"n":1},{"x":-808,"x2":-800,"y":-0.125,"n":1},{"x":-768,"x2":-752,"y":-0.125,"n":1},{"x":-720,"x2":-660,"y":-0.125,"n":1},{"x":-628,"x2":-620,"y":-0.125,"n":1},{"x":-596,"x2":-530,"y":-0.125,"n":1},{"x":-506,"x2":-420,"y":-0.125,"n":1},{"x":-412,"x2":-252,"y":-0.125,"n":1},{"x":-252,"x2":-214,"y":-0.125,"n":4},{"x":-214,"x2":-196,"y":-0.125,"n":16},{"x":-196,"x2":-183,"y":-0.125,"n":48},
{"x":-1312,"x2":-1270,"y":-0.175,"n":1},{"x":-1246,"x2":-1238,"y":-0.175,"n":1},{"x":-1206,"x2":-1190,"y":-0.175,"n":1},{"x":-1158,"x2":-1100,"y":-0.175,"n":1},{"x":-1068,"x2":-1060,"y":-0.175,"n":1},{"x":-1028,"x2":-1012,"y":-0.175,"n":1},{"x":-980,"x2":-972,"y":-0.175,"n":1},{"x":-948,"x2":-890,"y":-0.175,"n":1},{"x":-858,"x2":-850,"y":-0.175,"n":1},{"x":-818,"x2":-802,"y":-0.175,"n":1},{"x":-770,"x2":-710,"y":-0.175,"n":1},{"x":-678,"x2":-670,"y":-0.175,"n":1},{"x":-646,"x2":-580,"y":-0.175,"n":1},{"x":-556,"x2":-470,"y":-0.175,"n":1},{"x":-454,"x2":-256,"y":-0.175,"n":1},{"x":-256,"x2":-218,"y":-0.175,"n":4},{"x":-218,"x2":-200,"y":-0.175,"n":15},{"x":-200,"x2":-188,"y":-0.175,"n":46},
{"x":-1305,"x2":-1285,"y":-0.225,"n":1},{"x":-1261,"x2":-1200,"y":-0.225,"n":1},{"x":-1176,"x2":-1168,"y":-0.225,"n":1},{"x":-1136,"x2":-1120,"y":-0.225,"n":1},{"x":-1088,"x2":-1030,"y":-0.225,"n":1},{"x":-998,"x2":-990,"y":-0.225,"n":1},{"x":-958,"x2":-942,"y":-0.225,"n":1},{"x":-910,"x2":-902,"y":-0.225,"n":1},{"x":-878,"x2":-820,"y":-0.225,"n":1},{"x":-788,"x2":-780,"y":-0.225,"n":1},{"x":-748,"x2":-690,"y":-0.225,"n":1},{"x":-658,"x2":-650,"y":-0.225,"n":1},{"x":-626,"x2":-560,"y":-0.225,"n":1},{"x":-536,"x2":-450,"y":-0.225,"n":1},{"x":-434,"x2":-262,"y":-0.225,"n":1},{"x":-262,"x2":-224,"y":-0.225,"n":4},{"x":-224,"x2":-206,"y":-0.225,"n":15},{"x":-206,"x2":-195,"y":-0.225,"n":42},
{"x":-1295,"x2":-1250,"y":-0.275,"n":1},{"x":-1226,"x2":-1218,"y":-0.275,"n":1},{"x":-1186,"x2":-1170,"y":-0.275,"n":1},{"x":-1138,"x2":-1080,"y":-0.275,"n":1},{"x":-1048,"x2":-1040,"y":-0.275,"n":1},{"x":-1008,"x2":-992,"y":-0.275,"n":1},{"x":-960,"x2":-900,"y":-0.275,"n":1},{"x":-868,"x2":-860,"y":-0.275,"n":1},{"x":-828,"x2":-812,"y":-0.275,"n":1},{"x":-780,"x2":-720,"y":-0.275,"n":1},{"x":-688,"x2":-680,"y":-0.275,"n":1},{"x":-656,"x2":-590,"y":-0.275,"n":1},{"x":-566,"x2":-558,"y":-0.275,"n":1},{"x":-534,"x2":-430,"y":-0.275,"n":1},{"x":-414,"x2":-270,"y":-0.275,"n":1},{"x":-270,"x2":-232,"y":-0.275,"n":4},{"x":-232,"x2":-216,"y":-0.275,"n":14},{"x":-216,"x2":-205,"y":-0.275,"n":38},
{"x":-1285,"x2":-1266,"y":-0.325,"n":1},{"x":-1242,"x2":-1190,"y":-0.325,"n":1},{"x":-1166,"x2":-1158,"y":-0.325,"n":1},{"x":-1126,"x2":-1110,"y":-0.325,"n":1},{"x":-1078,"x2":-1020,"y":-0.325,"n":1},{"x":-988,"x2":-980,"y":-0.325,"n":1},{"x":-948,"x2":-932,"y":-0.325,"n":1},{"x":-900,"x2":-892,"y":-0.325,"n":1},{"x":-868,"x2":-810,"y":-0.325,"n":1},{"x":-778,"x2":-770,"y":-0.325,"n":1},{"x":-738,"x2":-680,"y":-0.325,"n":1},{"x":-648,"x2":-640,"y":-0.325,"n":1},{"x":-616,"x2":-550,"y":-0.325,"n":1},{"x":-526,"x2":-518,"y":-0.325,"n":1},{"x":-494,"x2":-280,"y":-0.325,"n":1},{"x":-280,"x2":-240,"y":-0.325,"n":4},{"x":-240,"x2":-226,"y":-0.325,"n":13},{"x":-226,"x2":-215,"y":-0.325,"n":34},
{"x":-1271,"x2":-1226,"y":-0.375,"n":1},{"x":-1202,"x2":-1194,"y":-0.375,"n":1},{"x":-1162,"x2":-1146,"y":-0.375,"n":1},{"x":-1114,"x2":-1060,"y":-0.375,"n":1},{"x":-1028,"x2":-1020,"y":-0.375,"n":1},{"x":-988,"x2":-972,"y":-0.375,"n":1},{"x":-940,"x2":-880,"y":-0.375,"n":1},{"x":-848,"x2":-840,"y":-0.375,"n":1},{"x":-808,"x2":-792,"y":-0.375,"n":1},{"x":-760,"x2":-700,"y":-0.375,"n":1},{"x":-668,"x2":-660,"y":-0.375,"n":1},{"x":-636,"x2":-570,"y":-0.375,"n":1},{"x":-546,"x2":-538,"y":-0.375,"n":1},{"x":-514,"x2":-410,"y":-0.375,"n":1},{"x":-402,"x2":-290,"y":-0.375,"n":1},{"x":-290,"x2":-250,"y":-0.375,"n":4},{"x":-250,"x2":-238,"y":-0.375,"n":12},{"x":-238,"x2":-229,"y":-0.375,"n":26},
{"x":-1255,"x2":-1236,"y":-0.425,"n":1},{"x":-1212,"x2":-1160,"y":-0.425,"n":1},{"x":-1136,"x2":-1128,"y":-0.425,"n":1},{"x":-1096,"x2":-1080,"y":-0.425,"n":1},{"x":-1048,"x2":-1000,"y":-0.425,"n":1},{"x":-968,"x2":-960,"y":-0.425,"n":1},{"x":-928,"x2":-912,"y":-0.425,"n":1},{"x":-880,"x2":-872,"y":-0.425,"n":1},{"x":-848,"x2":-790,"y":-0.425,"n":1},{"x":-758,"x2":-750,"y":-0.425,"n":1},{"x":-718,"x2":-660,"y":-0.425,"n":1},{"x":-628,"x2":-620,"y":-0.425,"n":1},{"x":-596,"x2":-530,"y":-0.425,"n":1},{"x":-506,"x2":-300,"y":-0.425,"n":1},{"x":-300,"x2":-262,"y":-0.425,"n":4},{"x":-262,"x2":-245,"y":-0.425,"n":14},
{"x":-1236,"x2":-1190,"y":-0.475,"n":1},{"x":-1166,"x2":-1158,"y":-0.475,"n":1},{"x":-1126,"x2":-1110,"y":-0.475,"n":1},{"x":-1078,"x2":-1020,"y":-0.475,"n":1},{"x":-988,"x2":-980,"y":-0.475,"n":1},{"x":-948,"x2":-932,"y":-0.475,"n":1},{"x":-900,"x2":-850,"y":-0.475,"n":1},{"x":-818,"x2":-810,"y":-0.475,"n":1},{"x":-778,"x2":-720,"y":-0.475,"n":1},{"x":-688,"x2":-680,"y":-0.475,"n":1},{"x":-656,"x2":-590,"y":-0.475,"n":1},{"x":-566,"x2":-558,"y":-0.475,"n":1},{"x":-534,"x2":-420,"y":-0.475,"n":1},{"x":-412,"x2":-310,"y":-0.475,"n":1},{"x":-310,"x2":-278,"y":-0.475,"n":4},{"x":-278,"x2":-264,"y":-0.475,"n":11},
{"x":-1215,"x2":-1198,"y":-0.525,"n":1},{"x":-1174,"x2":-1120,"y":-0.525,"n":1},{"x":-1096,"x2":-1088,"y":-0.525,"n":1},{"x":-1056,"x2":-1040,"y":-0.525,"n":1},{"x":-1008,"x2":-950,"y":-0.525,"n":1},{"x":-918,"x2":-910,"y":-0.525,"n":1},{"x":-878,"x2":-820,"y":-0.525,"n":1},{"x":-788,"x2":-780,"y":-0.525,"n":1},{"x":-748,"x2":-690,"y":-0.525,"n":1},{"x":-658,"x2":-650,"y":-0.525,"n":1},{"x":-626,"x2":-560,"y":-0.525,"n":1},{"x":-536,"x2":-320,"y":-0.525,"n":1},{"x":-320,"x2":-285,"y":-0.525,"n":5},
{"x":-1191,"x2":-1140,"y":-0.575,"n":1},{"x":-1116,"x2":-1108,"y":-0.575,"n":1},{"x":-1076,"x2":-1020,"y":-0.575,"n":1},{"x":-988,"x2":-980,"y":-0.575,"n":1},{"x":-948,"x2":-890,"y":-0.575,"n":1},{"x":-858,"x2":-850,"y":-0.575,"n":1},{"x":-818,"x2":-760,"y":-0.575,"n":1},{"x":-728,"x2":-720,"y":-0.575,"n":1},{"x":-696,"x2":-630,"y":-0.575,"n":1},{"x":-606,"x2":-540,"y":-0.575,"n":1},{"x":-516,"x2":-350,"y":-0.575,"n":1},{"x":-350,"x2":-309,"y":-0.575,"n":5},
{"x":-1163,"x2":-1144,"y":-0.625,"n":1},{"x":-1120,"x2":-1070,"y":-0.625,"n":1},{"x":-1046,"x2":-1038,"y":-0.625,"n":1},{"x":-1006,"x2":-950,"y":-0.625,"n":1},{"x":-918,"x2":-910,"y":-0.625,"n":1},{"x":-878,"x2":-820,"y":-0.625,"n":1},{"x":-788,"x2":-780,"y":-0.625,"n":1},{"x":-748,"x2":-680,"y":-0.625,"n":1},{"x":-656,"x2":-590,"y":-0.625,"n":1},{"x":-566,"x2":-490,"y":-0.625,"n":1},{"x":-474,"x2":-337,"y":-0.625,"n":1},
{"x":-1129,"x2":-1080,"y":-0.675,"n":1},{"x":-1056,"x2":-1048,"y":-0.675,"n":1},{"x":-1016,"x2":-960,"y":-0.675,"n":1},{"x":-928,"x2":-920,"y":-0.675,"n":1},{"x":-888,"x2":-830,"y":-0.675,"n":1},{"x":-798,"x2":-790,"y":-0.675,"n":1},{"x":-758,"x2":-700,"y":-0.675,"n":1},{"x":-676,"x2":-600,"y":-0.675,"n":1},{"x":-576,"x2":-490,"y":-0.675,"n":1},{"x":-474,"x2":-371,"y":-0.675,"n":1},
{"x":-1089,"x2":-1030,"y":-0.725,"n":1},{"x":-1006,"x2":-998,"y":-0.725,"n":1},{"x":-966,"x2":-900,"y":-0.725,"n":1},{"x":-868,"x2":-860,"y":-0.725,"n":1},{"x":-836,"x2":-770,"y":-0.725,"n":1},{"x":-746,"x2":-670,"y":-0.725,"n":1},{"x":-646,"x2":-560,"y":-0.725,"n":1},{"x":-544,"x2":-411,"y":-0.725,"n":1},
{"x":-1041,"x2":-980,"y":-0.775,"n":1},{"x":-956,"x2":-880,"y":-0.775,"n":1},{"x":-856,"x2":-770,"y":-0.775,"n":1},{"x":-746,"x2":-660,"y":-0.775,"n":1},{"x":-636,"x2":-540,"y":-0.775,"n":1},{"x":-516,"x2":-459,"y":-0.775,"n":1},
{"x":-979,"x2":-910,"y":-0.825,"n":1},{"x":-886,"x2":-800,"y":-0.825,"n":1},{"x":-776,"x2":-690,"y":-0.825,"n":1},{"x":-666,"x2":-521,"y":-0.825,"n":1},
{"x":-884,"x2":-800,"y":-0.875,"n":1},{"x":-776,"x2":-700,"y":-0.875,"n":1},{"x":-684,"x2":-616,"y":-0.875,"n":1}
],
"barA":[{"a":0,"b":2.4},{"a":2.4,"b":4.8},{"a":4.8,"b":7.2},{"a":7.2,"b":9.6},{"a":9.6,"b":12},{"a":12,"b":14.4},{"a":14.4,"b":16.8},{"a":16.8,"b":19.2},{"a":19.2,"b":21.6},{"a":21.6,"b":24},{"a":24,"b":26.4},{"a":26.4,"b":28.8},{"a":28.8,"b":31.2},{"a":31.2,"b":33.6},{"a":33.6,"b":36},{"a":36,"b":38.4},{"a":38.4,"b":40.8},{"a":40.8,"b":43.2},{"a":43.2,"b":45.6},{"a":45.6,"b":48}],
"barB":[{"a":0,"b":2.8},{"a":2.8,"b":5.6},{"a":5.6,"b":8.4},{"a":8.4,"b":11.2},{"a":11.2,"b":14},{"a":14,"b":16.8},{"a":16.8,"b":19.6},{"a":19.6,"b":22.4},{"a":22.4,"b":25.2},{"a":25.2,"b":28},{"a":28,"b":30.8},{"a":30.8,"b":33.6},{"a":33.6,"b":36.4},{"a":36.4,"b":39.2},{"a":39.2,"b":42},{"a":42,"b":44.8},{"a":44.8,"b":47.6},{"a":47.6,"b":50.4},{"a":50.4,"b":53.2},{"a":53.2,"b":56}]},
"hconcat":[
{"width":770.5,"height":708,"resolve":{"axis":{"x":"independent","y":"independent"}},"encoding":{"x":{"field":"x","type":"quantitative","axis":null,"scale":{"domain":[-1500,0],"nice":false}},"y":{"field":"y","type":"quantitative","axis":null,"scale":{"domain":[-3,3],"range":[708,6],"nice":false}}},"layer":[
{"data":{"name":"zh"},"mark":{"type":"rect","height":6},"encoding":{
"x":{"field":"x","type":"quantitative","scale":{"domain":[-1500,0],"nice":false},"axis":{"orient":"bottom","format":"d","values":[-1400,-1200,-1000,-800,-600,-400,-200,0],"tickSize":-22,"tickColor":"#222","domainColor":"#666","domainWidth":2,"labelBaseline":"alphabetic","labelPadding":51,"title":"Position [mm]","titleX":770.5,"titleY":55,"titleAlign":"right","titleBaseline":"alphabetic"}},
"x2":{"field":"x2"},
"y":{"field":"y","type":"quantitative","scale":{"domain":[-3,3],"range":[708,6],"nice":false},"axis":{"orient":"left","values":[-3,-2,-1,0,1,2,3],"tickSize":-24,"tickColor":"#222","domainColor":"#666","domainWidth":2,"labelPadding":29,"title":"Position [mm]","titleAngle":270,"titleX":-51,"titleY":6,"titleAlign":"right","titleBaseline":"alphabetic"}},
"color":{"field":"n","type":"quantitative","legend":null,"scale":{"type":"quantize","domain":[0,48],"range":["#2b3aa5","#174fc8","#1164d8","#1272d4","#1280d0","#108cca","#0c9ccc","#10a8c4","#1eaeb0","#30b4a0","#55b795","#78bc84","#97bd74","#b3bc68","#cfb95c","#e0bd4c","#f2c53a","#fdcf28","#fce61c","#fbfb0c"]}}}},
{"data":{"values":[{"x":-1383,"x2":-764,"y":2.778,"y2":2.333}]},"mark":{"type":"rect","color":"#c9e200"},"encoding":{
"x":{"field":"x","type":"quantitative","axis":{"orient":"bottom","values":[-1450,-1350,-1300,-1250,-1150,-1100,-1050,-950,-900,-850,-750,-700,-650,-550,-500,-450,-350,-300,-250,-150,-100,-50],"tickSize":-10.5,"tickColor":"#333","domain":false,"labels":false,"title":null}},"x2":{"field":"x2"},
"y":{"field":"y","type":"quantitative","axis":{"orient":"left","values":[-2.8,-2.6,-2.4,-2.2,-1.8,-1.6,-1.4,-1.2,-0.8,-0.6,-0.4,-0.2,0.2,0.4,0.6,0.8,1.2,1.4,1.6,1.8,2.2,2.4,2.6,2.8],"tickSize":-12,"tickColor":"#333","domain":false,"labels":false,"title":null}},"y2":{"field":"y2"}}},
{"data":{"values":[{"x":-1346,"y":2.47,"t":"ZH"},{"x":-1246,"y":2.47,"t":"E"},{"x":-1194,"y":2.47,"t":"=120GeV"}]},"mark":{"type":"text","align":"left","baseline":"alphabetic","color":"#0a0ae6","fontWeight":"bold","fontSize":26},"encoding":{"x":{"field":"x","type":"quantitative","axis":{"orient":"top","ticks":false,"labels":false,"domainColor":"#666","domainWidth":2,"title":null}},"y":{"field":"y","type":"quantitative","axis":{"orient":"right","ticks":false,"labels":false,"domainColor":"#666","domainWidth":2,"title":null}},"text":{"field":"t"}}},
{"data":{"values":[{"x":-1214,"y":2.41,"t":"0"}]},"mark":{"type":"text","align":"left","baseline":"alphabetic","color":"#0a0ae6","fontWeight":"bold","fontSize":17},"encoding":{"text":{"field":"t"}}},
{"data":{"values":[{"x":-1375,"y":1.812,"t":"Transverse"},{"x":-1375,"y":1.256,"t":"Plane"}]},"mark":{"type":"text","align":"left","baseline":"alphabetic","color":"#808080","fontSize":53.5},"encoding":{"text":{"field":"t"}}},
{"data":{"values":[{"x":-192,"y":0.701,"t":"Main"},{"x":-192,"y":0.427,"t":"Beam"}]},"mark":{"type":"text","align":"left","baseline":"alphabetic","color":"#ff0000","fontSize":26},"encoding":{"text":{"field":"t"}}},
{"data":{"values":[{"x":-162.6,"y":-0.444,"t":"Photon"},{"x":-162.6,"y":-0.726,"t":"Beam"}]},"mark":{"type":"text","align":"left","baseline":"alphabetic","color":"#2e9e3e","fontSize":26},"encoding":{"text":{"field":"t"}}},
{"data":{"values":[{"x":-986,"y":-1.316,"t":"Width 800 mm @ 96m from LaserIP"}]},"mark":{"type":"text","align":"left","baseline":"alphabetic","color":"#0000ff","fontSize":26},"encoding":{"text":{"field":"t"}}},
{"data":{"values":[{"x":-930,"x2":-185,"y":-0.897}]},"mark":{"type":"rule","color":"#0000ff","strokeWidth":3},"encoding":{"x2":{"field":"x2"}}},
{"data":{"values":[{"x":-924,"y":-0.897}]},"mark":{"type":"point","shape":"triangle-left","filled":true,"color":"#0000ff","opacity":1,"size":260},"encoding":{}},
{"data":{"values":[{"x":-190,"y":-0.897}]},"mark":{"type":"point","shape":"triangle-right","filled":true,"color":"#0000ff","opacity":1,"size":260},"encoding":{}},
{"data":{"values":[{"x":-94.4,"y":-0.299,"x2":-38,"y2":-0.068}]},"mark":{"type":"rule","color":"#3ebd4a","strokeWidth":3},"encoding":{"x2":{"field":"x2"},"y2":{"field":"y2"}}},
{"data":{"values":[{"x":-38,"y":-0.077}]},"mark":{"type":"point","shape":"triangle-up","filled":true,"color":"#3ebd4a","opacity":1,"size":300,"angle":47},"encoding":{}},
{"data":{"values":[{"x":-188,"y":0.06}]},"mark":{"type":"circle","color":"#ff0000","opacity":1,"size":270},"encoding":{}},
{"data":{"values":[{"x":-5,"y":0.054}]},"mark":{"type":"circle","color":"#00b050","opacity":1,"size":270,"clip":false},"encoding":{}}
]},
{"width":44,"height":708,"data":{"name":"barA"},"mark":"rect","encoding":{
"y":{"field":"a","type":"quantitative","scale":{"domain":[0,48],"range":[708,6],"nice":false},"axis":{"orient":"right","values":[0,5,10,15,20,25,30,35,40,45],"tickSize":-23,"tickColor":"#222","domainColor":"#555","domainWidth":1.5,"labelPadding":28,"title":null}},"y2":{"field":"b"},
"color":{"field":"a","type":"quantitative","legend":null,"scale":{"type":"quantize","domain":[0,48],"range":["#2b3aa5","#174fc8","#1164d8","#1272d4","#1280d0","#108cca","#0c9ccc","#10a8c4","#1eaeb0","#30b4a0","#55b795","#78bc84","#97bd74","#b3bc68","#cfb95c","#e0bd4c","#f2c53a","#fdcf28","#fce61c","#fbfb0c"]}}}},
{"width":128,"height":708,"data":{"values":[]},"mark":"rect","encoding":{}},
{"width":769.5,"height":708,"resolve":{"axis":{"x":"independent","y":"independent"}},"encoding":{"x":{"field":"x","type":"quantitative","axis":null,"scale":{"domain":[-1500,0],"nice":false}},"y":{"field":"y","type":"quantitative","axis":null,"scale":{"domain":[-3,3],"range":[703,0],"nice":false}}},"layer":[
{"data":{"name":"tt"},"mark":{"type":"rect","height":6},"encoding":{
"x":{"field":"x","type":"quantitative","scale":{"domain":[-1500,0],"nice":false},"axis":{"orient":"bottom","format":"d","values":[-1400,-1200,-1000,-800,-600,-400,-200,0],"tickSize":-22,"tickColor":"#222","domainColor":"#666","domainWidth":2,"labelBaseline":"alphabetic","labelPadding":50,"offset":-5,"title":"Position [mm]","titleX":769.5,"titleY":55,"titleAlign":"right","titleBaseline":"alphabetic"}},
"x2":{"field":"x2"},
"y":{"field":"y","type":"quantitative","scale":{"domain":[-3,3],"range":[703,0],"nice":false},"axis":{"orient":"left","values":[-3,-2,-1,0,1,2,3],"tickSize":-24,"tickColor":"#222","domainColor":"#666","domainWidth":2,"labelPadding":29,"title":"Position [mm]","titleAngle":270,"titleX":-55,"titleY":0,"titleAlign":"right","titleBaseline":"alphabetic"}},
"color":{"field":"n","type":"quantitative","legend":null,"scale":{"type":"quantize","domain":[0,56],"range":["#2b3aa5","#174fc8","#1164d8","#1272d4","#1280d0","#108cca","#0c9ccc","#10a8c4","#1eaeb0","#30b4a0","#55b795","#78bc84","#97bd74","#b3bc68","#cfb95c","#e0bd4c","#f2c53a","#fdcf28","#fce61c","#fbfb0c"]}}}},
{"data":{"values":[{"x":-1305,"x2":-685,"y":2.727,"y2":2.283}]},"mark":{"type":"rect","color":"#c9e200"},"encoding":{
"x":{"field":"x","type":"quantitative","axis":{"orient":"bottom","offset":-5,"values":[-1450,-1350,-1300,-1250,-1150,-1100,-1050,-950,-900,-850,-750,-700,-650,-550,-500,-450,-350,-300,-250,-150,-100,-50],"tickSize":-10.5,"tickColor":"#333","domain":false,"labels":false,"title":null}},"x2":{"field":"x2"},
"y":{"field":"y","type":"quantitative","axis":{"orient":"left","values":[-2.8,-2.6,-2.4,-2.2,-1.8,-1.6,-1.4,-1.2,-0.8,-0.6,-0.4,-0.2,0.2,0.4,0.6,0.8,1.2,1.4,1.6,1.8,2.2,2.4,2.6,2.8],"tickSize":-12,"tickColor":"#333","domain":false,"labels":false,"title":null}},"y2":{"field":"y2"}}},
{"data":{"values":[{"x":-1266,"y":2.42,"t":"t tbar"},{"x":-1090,"y":2.42,"t":"E"},{"x":-1040,"y":2.42,"t":"=182.5GeV"}]},"mark":{"type":"text","align":"left","baseline":"alphabetic","color":"#0a0ae6","fontWeight":"bold","fontSize":26},"encoding":{"x":{"field":"x","type":"quantitative","axis":{"orient":"top","ticks":false,"labels":false,"domainColor":"#666","domainWidth":2,"title":null}},"y":{"field":"y","type":"quantitative","axis":{"orient":"right","ticks":false,"labels":false,"domainColor":"#666","domainWidth":2,"title":null}},"text":{"field":"t"}}},
{"data":{"values":[{"x":-1059,"y":2.368,"t":"0"}]},"mark":{"type":"text","align":"left","baseline":"alphabetic","color":"#0a0ae6","fontWeight":"bold","fontSize":17},"encoding":{"text":{"field":"t"}}},
{"data":{"values":[{"x":-172.6,"y":0.713,"t":"Main"},{"x":-172.6,"y":0.448,"t":"Beam"}]},"mark":{"type":"text","align":"left","baseline":"alphabetic","color":"#ff0000","fontSize":26},"encoding":{"text":{"field":"t"}}},
{"data":{"values":[{"x":-153,"y":-0.431,"t":"Photon"},{"x":-153,"y":-0.695,"t":"Beam"}]},"mark":{"type":"text","align":"left","baseline":"alphabetic","color":"#2e9e3e","fontSize":26},"encoding":{"text":{"field":"t"}}},
{"data":{"values":[{"x":-1145,"y":-1.233,"t":"Width 1150 mm @ 96m from LaserIP"}]},"mark":{"type":"text","align":"left","baseline":"alphabetic","color":"#0000ff","fontSize":26},"encoding":{"text":{"field":"t"}}},
{"data":{"values":[{"x":-1262,"x2":-164,"y":-0.951}]},"mark":{"type":"rule","color":"#0000ff","strokeWidth":3},"encoding":{"x2":{"field":"x2"}}},
{"data":{"values":[{"x":-1258,"y":-0.951}]},"mark":{"type":"point","shape":"triangle-left","filled":true,"color":"#0000ff","opacity":1,"size":260},"encoding":{}},
{"data":{"values":[{"x":-168,"y":-0.951}]},"mark":{"type":"point","shape":"triangle-right","filled":true,"color":"#0000ff","opacity":1,"size":260},"encoding":{}},
{"data":{"values":[{"x":-85.8,"y":-0.269,"x2":-23.4,"y2":-0.055}]},"mark":{"type":"rule","color":"#3ebd4a","strokeWidth":3},"encoding":{"x2":{"field":"x2"},"y2":{"field":"y2"}}},
{"data":{"values":[{"x":-23.4,"y":-0.055}]},"mark":{"type":"point","shape":"triangle-up","filled":true,"color":"#3ebd4a","opacity":1,"size":300,"angle":50},"encoding":{}},
{"data":{"values":[{"x":-166,"y":0.073}]},"mark":{"type":"circle","color":"#ff0000","opacity":1,"size":270},"encoding":{}},
{"data":{"values":[{"x":6,"y":0.073}]},"mark":{"type":"circle","color":"#00b050","opacity":1,"size":270,"clip":false},"encoding":{}}
]},
{"width":44,"height":708,"data":{"name":"barB"},"mark":"rect","encoding":{
"y":{"field":"a","type":"quantitative","scale":{"domain":[0,56],"range":[703,0],"nice":false},"axis":{"orient":"right","values":[0,10,20,30,40,50],"tickSize":-23,"tickColor":"#222","domainColor":"#555","domainWidth":1.5,"labelPadding":28,"title":null}},"y2":{"field":"b"},
"color":{"field":"a","type":"quantitative","legend":null,"scale":{"type":"quantize","domain":[0,56],"range":["#2b3aa5","#174fc8","#1164d8","#1272d4","#1280d0","#108cca","#0c9ccc","#10a8c4","#1eaeb0","#30b4a0","#55b795","#78bc84","#97bd74","#b3bc68","#cfb95c","#e0bd4c","#f2c53a","#fdcf28","#fce61c","#fbfb0c"]}}}}
]}
